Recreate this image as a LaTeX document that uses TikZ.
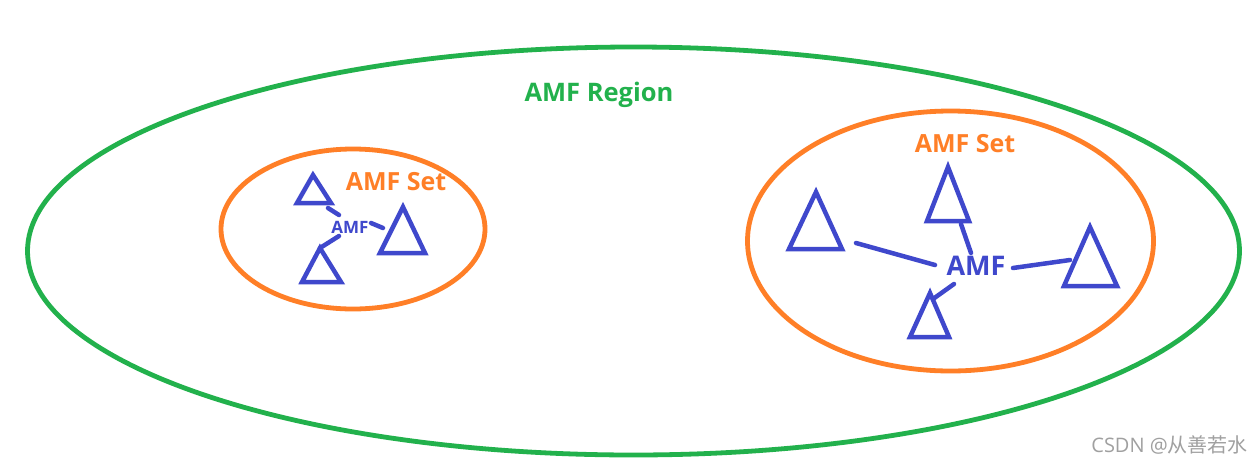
\documentclass[tikz,border=0pt]{standalone}
\usepackage{fontspec}
\setmainfont{Open Sans}
\newfontfamily\cjkfont{Noto Sans CJK SC}
\definecolor{regiongreen}{RGB}{34,177,76}
\definecolor{setorange}{RGB}{255,127,39}
\definecolor{amfblue}{RGB}{63,72,204}
\definecolor{wmgray}{RGB}{160,160,160}
\begin{document}
\begin{tikzpicture}[x=1pt,y=-1pt,
  regionline/.style={draw=regiongreen,line width=4.8pt},
  setline/.style={draw=setorange,line width=4.8pt},
  tri/.style={draw=amfblue,line width=4.5pt,line join=miter,line cap=round},
  link/.style={draw=amfblue,line width=4.5pt,line cap=round},
  lbl/.style={inner sep=0pt,anchor=base,font=\bfseries}]
\useasboundingbox[fill=white] (0,0) rectangle (1258,464);
% region
\draw[regionline] (633.5,251) ellipse [x radius=606, y radius=204];
\node[lbl,text=regiongreen,font=\bfseries\fontsize{25.5}{28}\selectfont] (region) at (599,101) {AMF Region};
% sets
\draw[setline] (353,229) ellipse [x radius=132, y radius=80];
\draw[setline] (950.5,241) ellipse [x radius=203, y radius=130];
\node[lbl,text=setorange,font=\bfseries\fontsize{25}{28}\selectfont] (setL) at (396,190) {AMF Set};
\node[lbl,text=setorange,font=\bfseries\fontsize{25}{28}\selectfont] (setR) at (965,152) {AMF Set};
% AMF labels
\node[lbl,text=amfblue,font=\bfseries\fontsize{17}{20}\selectfont] (amfL) at (350,233) {AMF};
\node[lbl,text=amfblue,font=\bfseries\fontsize{27}{30}\selectfont] (amfR) at (976,275) {AMF};
% left triangles
\draw[tri] (313,175) -- (331,203) -- (297,203) -- cycle;
\draw[tri] (403,207) -- (425,253) -- (380,253) -- cycle;
\draw[tri] (320,248) -- (341,282) -- (302,282) -- cycle;
\coordinate (t1e) at (328,208); \coordinate (l1e) at (339,215);
\coordinate (t2e) at (383,228); \coordinate (l2e) at (371,223);
\coordinate (t3e) at (320,248); \coordinate (l3e) at (339,236);
\draw[link] (t1e) -- (l1e);
\draw[link] (t2e) -- (l2e);
\draw[link] (t3e) -- (l3e);
% right triangles
\draw[tri] (816,192) -- (842,249) -- (789,249) -- cycle;
\draw[tri] (948,167) -- (969,221) -- (927,221) -- cycle;
\draw[tri] (1090,227) -- (1117,286) -- (1064,286) -- cycle;
\draw[tri] (930,293) -- (949,337) -- (910,337) -- cycle;
\coordinate (t4e) at (856,243); \coordinate (r4e) at (935,265);
\coordinate (t5e) at (961,224); \coordinate (r5e) at (971,253);
\coordinate (t6e) at (1070,260); \coordinate (r6e) at (1013,268);
\coordinate (t7e) at (933,299); \coordinate (r7e) at (954,284);
\draw[link] (t4e) -- (r4e);
\draw[link] (t5e) -- (r5e);
\draw[link] (t6e) -- (r6e);
\draw[link] (t7e) -- (r7e);
% watermark
\node[inner sep=0pt,anchor=east,text=wmgray,font=\fontsize{20}{24}\selectfont] (wm) at (1248,445) {CSDN @{\cjkfont 从善若水}};
\end{tikzpicture}
\end{document}
